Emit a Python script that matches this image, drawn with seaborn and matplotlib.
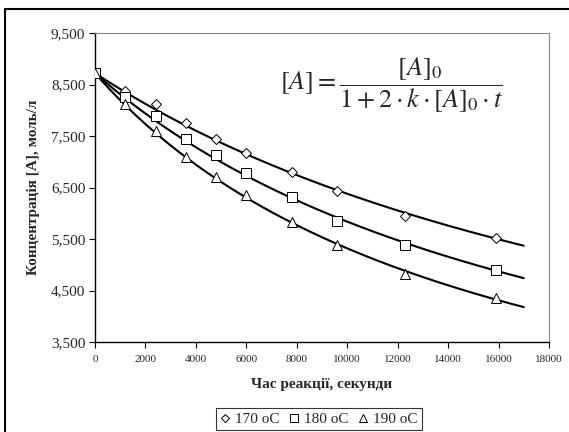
import numpy as np
import pandas as pd
import matplotlib
matplotlib.use("Agg")
import matplotlib.pyplot as plt
import seaborn as sns
from matplotlib.lines import Line2D

# Data
time_s = [0, 1200, 2400, 3600, 4800, 6000, 7800, 9600, 12300, 15900]
conc_170 = [8.72, 8.37, 8.12, 7.75, 7.45, 7.17, 6.80, 6.43, 5.95, 5.52]
conc_180 = [8.72, 8.25, 7.88, 7.45, 7.13, 6.78, 6.32, 5.85, 5.38, 4.90]
conc_190 = [8.72, 8.12, 7.60, 7.10, 6.70, 6.35, 5.83, 5.38, 4.82, 4.35]
series_labels = ["170 oC", "180 oC", "190 oC"]
markers = ["D", "s", "^"]
y_ticks = [3.5, 4.5, 5.5, 6.5, 7.5, 8.5, 9.5]
y_tick_labels = ["3,500", "4,500", "5,500", "6,500", "7,500", "8,500", "9,500"]
x_ticks = list(range(0, 18001, 2000))
t_end = 17000

sns.set_theme(style="white")
plt.rcParams["font.family"] = ["Liberation Serif", "DejaVu Serif"]
plt.rcParams["mathtext.fontset"] = "stix"

fig = plt.figure(figsize=(5.69, 4.32), dpi=100)
ax = fig.add_axes([95/569, 1-342/432, (549-95)/569, (342-33)/432])

df = pd.DataFrame({"t": time_s * 3,
                   "A": conc_170 + conc_180 + conc_190,
                   "series": sum([[s]*len(time_s) for s in series_labels], [])})

t_line = np.linspace(0, t_end, 300)
for lab, mk, vals in zip(series_labels, markers, [conc_170, conc_180, conc_190]):
    t = np.array(time_s, float); a = np.array(vals)
    a0 = a[0]
    # least-squares fit of 2k from 1/A - 1/A0 = 2k t
    y = 1/a - 1/a0
    k2 = np.sum(y*t)/np.sum(t*t)
    fit = a0/(1 + k2*a0*t_line)
    sns.lineplot(x=t_line, y=fit, ax=ax, color="black", lw=1.5, legend=False)

for lab, mk in zip(series_labels, markers):
    sub = df[df.series == lab]
    ms = 4.8 if mk == "D" else 6.5
    ax.plot(sub.t, sub.A, linestyle="none", marker=mk, markersize=ms,
            markerfacecolor="white", markeredgecolor="black", markeredgewidth=0.7,
            label=lab, zorder=3)

ax.set_xlim(0, 18000)
ax.set_ylim(3.5, 9.5)
ax.set_yticks(y_ticks)
ax.set_yticklabels(y_tick_labels, fontsize=11)
ax.set_xticks(x_ticks)
ax.set_xticklabels([str(v) for v in x_ticks], fontsize=8)
ax.tick_params(axis="both", direction="out", length=4, width=0.8, color="black",
               bottom=True, left=True, pad=3)
ax.tick_params(axis="x", pad=5)
for s in ["left", "bottom"]:
    ax.spines[s].set_color("black"); ax.spines[s].set_linewidth(1.0)
for s in ["top", "right"]:
    ax.spines[s].set_color("#888888"); ax.spines[s].set_linewidth(0.8)

ax.set_xlabel("Час реакції, секунди", fontsize=11, fontweight="bold", labelpad=10)
ax.set_ylabel("Концентрація [A], моль/л", fontsize=11, fontweight="bold", labelpad=8)

ax.text(0.899, 0.832, r"$[A]=\dfrac{[A]_0}{1+2\cdot k\cdot[A]_0\cdot t}$",
        transform=ax.transAxes, ha="right", va="center", fontsize=19)

leg = fig.legend(loc="center", bbox_to_anchor=(319/569, 1-419/432), ncol=3,
                 frameon=True, fontsize=11, handlelength=0.6, handletextpad=0.4,
                 columnspacing=0.6, borderpad=0.25, fancybox=False, markerscale=0.8)
leg.get_frame().set_edgecolor("black")
leg.get_frame().set_linewidth(0.8)

# outer chart border (left and top visible)
fig.add_artist(Line2D([5/569, 5/569], [0, 1-9/432], transform=fig.transFigure, color="black", lw=1.5))
fig.add_artist(Line2D([5/569, 1], [1-9/432, 1-9/432], transform=fig.transFigure, color="black", lw=1.5))

fig.savefig("out.png", dpi=100)
